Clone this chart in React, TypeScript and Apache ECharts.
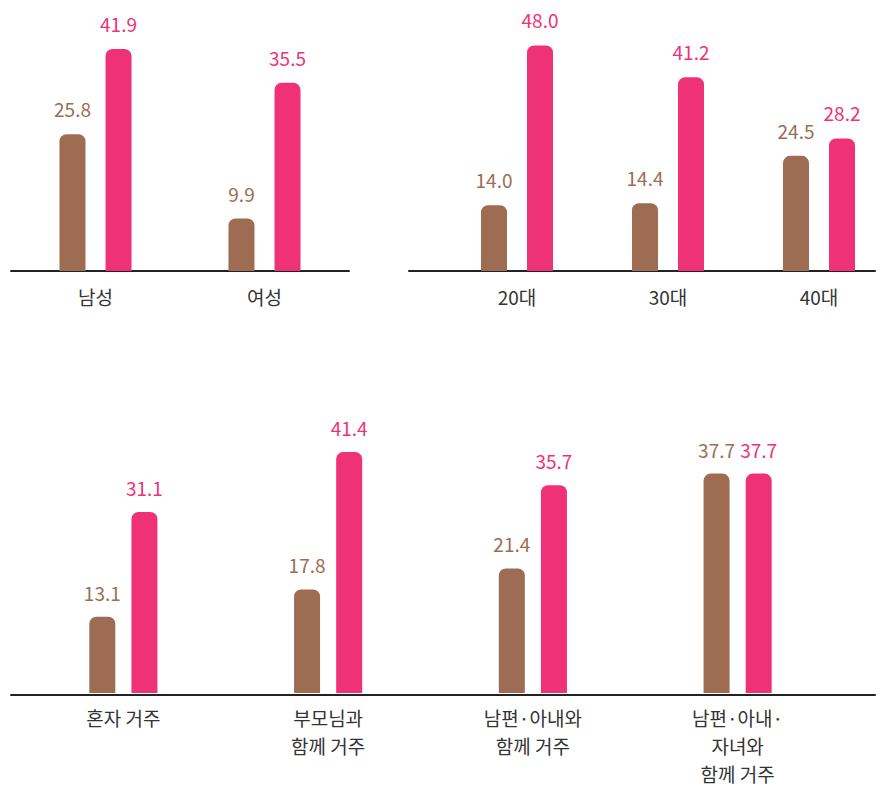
import React, { useEffect, useRef } from "react";
import * as echarts from "echarts";

// Gender panel
const genderCats = ["남성", "여성"];
const genderBrown = [25.8, 9.9];
const genderPink = [41.9, 35.5];

// Age panel
const ageCats = ["20대", "30대", "40대"];
const ageBrown = [14.0, 14.4, 24.5];
const agePink = [48.0, 41.2, 28.2];

// Household panel
const householdCats = [
  "혼자 거주",
  "부모님과\n함께 거주",
  "남편·아내와\n함께 거주",
  "남편·아내·\n자녀와\n함께 거주",
];
const householdBrown = [13.1, 17.8, 21.4, 37.7];
const householdPink = [31.1, 41.4, 35.7, 37.7];

const BROWN = "#9E6C52";
const PINK = "#EF3278";
const FONT = "'Noto Sans CJK KR', 'Noto Sans', sans-serif";

function catAxis(
  gridIndex: number,
  data: string[],
  showLine: boolean,
  margin: number,
  boundaryGap = true
) {
  return {
    type: "category",
    gridIndex,
    data,
    boundaryGap,
    axisLine: { show: showLine, lineStyle: { color: "#222", width: 2 } },
    axisTick: { show: false },
    axisLabel: {
      color: "#333",
      fontSize: 19,
      lineHeight: 28,
      margin,
      fontFamily: FONT,
      interval: 0,
    },
  };
}

function baseAxis(gridIndex: number) {
  return {
    type: "value",
    gridIndex,
    min: 0,
    max: 1,
    axisLine: { show: true, lineStyle: { color: "#222", width: 2 } },
    axisTick: { show: false },
    axisLabel: { show: false },
    splitLine: { show: false },
  };
}

function valAxis(gridIndex: number, show = true) {
  return {
    type: "value",
    gridIndex,
    min: 0,
    max: 50,
    show,
    axisLine: { show: false },
    axisTick: { show: false },
    axisLabel: { show: false },
    splitLine: { show: false },
  };
}

function barSeries(
  name: string,
  axisIndex: number,
  data: number[],
  color: string,
  gap: string,
  distance: number
) {
  return {
    name,
    type: "bar",
    xAxisIndex: axisIndex,
    yAxisIndex: axisIndex,
    data,
    clip: false,
    barWidth: 26,
    barGap: gap,
    itemStyle: { color, borderRadius: [7, 7, 0, 0] },
    label: {
      show: true,
      position: "top",
      distance,
      color,
      fontSize: 19,
      fontFamily: FONT,
      formatter: (p: any) => Number(p.value).toFixed(1),
    },
  };
}

export default function App() {
  const ref = useRef<HTMLDivElement>(null);

  useEffect(() => {
    document.body.style.margin = "0";
    if (!ref.current) return;
    const chart = echarts.init(ref.current, null, { renderer: "svg" });
    chart.setOption({
      animation: false,
      backgroundColor: "#fff",
      grid: [
        // 0: gender bars (axis line drawn here)
        { left: 11, width: 338, top: 6, height: 265 },
        // 1: age bars, categories placed on tick points
        { left: 517, width: 302, top: 36, height: 235 },
        // 2: age baseline
        { left: 409, width: 466, top: 36, height: 235 },
        // 3: household bars
        { left: 21, width: 819, top: 402, height: 293 },
        // 4: household baseline
        { left: 11, width: 864, top: 402, height: 293 },
      ],
      xAxis: [
        catAxis(0, genderCats, true, 11),
        catAxis(1, ageCats, false, 11, false),
        baseAxis(2),
        catAxis(3, householdCats, false, 10),
        baseAxis(4),
      ],
      yAxis: [valAxis(0), valAxis(1), valAxis(2, false), valAxis(3), valAxis(4, false)],
      series: [
        barSeries("A", 0, genderBrown, BROWN, "77%", 16),
        barSeries("B", 0, genderPink, PINK, "77%", 16),
        barSeries("A", 1, ageBrown, BROWN, "77%", 16),
        barSeries("B", 1, agePink, PINK, "77%", 16),
        barSeries("A", 3, householdBrown, BROWN, "62%", 15),
        barSeries("B", 3, householdPink, PINK, "62%", 15),
      ],
    });
    return () => chart.dispose();
  }, []);

  return <div ref={ref} style={{ width: 880, height: 787 }} />;
}
